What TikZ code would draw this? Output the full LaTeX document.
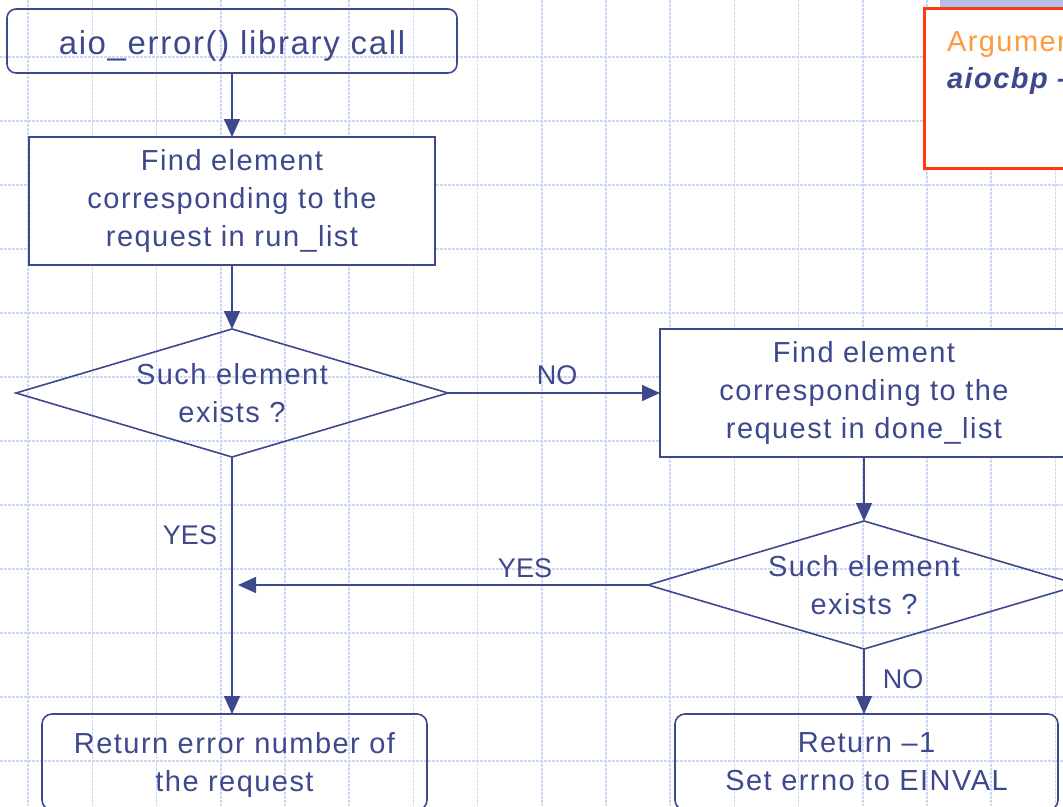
\documentclass[tikz,border=0pt]{standalone}
\usepackage{fontspec}
\setmainfont{Liberation Sans}
\newfontfamily\boxfont[LetterSpace=5]{Liberation Sans}
\usetikzlibrary{shapes.geometric,arrows.meta}

\definecolor{ink}{HTML}{3E488C}
\definecolor{gridblue}{HTML}{CCD8F6}
\definecolor{notered}{HTML}{FF3A10}
\definecolor{noteorange}{HTML}{FF9A3C}
\definecolor{notebar}{HTML}{B6BEE6}

\begin{document}
\begin{tikzpicture}[x=1pt,y=-1pt,
  every node/.style={text=ink, inner sep=0pt, outer sep=0pt},
  gridline/.style={draw=gridblue, line width=1.6pt, dash pattern=on 2.5pt off 1.5pt},
  flow/.style={draw=ink, line width=1.6pt, align=center,
    font=\boxfont\fontsize{29}{38}\selectfont},
  procbox/.style={flow, rectangle, fill=white},
  termbox/.style={flow, rectangle, rounded corners=10pt},
  decision/.style={flow, diamond, aspect=3.375,
    minimum width=432pt, minimum height=128pt},
  lbl/.style={font=\fontsize{27}{30}\selectfont},
  flowarrow/.style={draw=ink, line width=1.6pt,
    -{Triangle[length=18pt,width=16pt]}}
]
\useasboundingbox (0,0) rectangle (1063,806);
\clip (0,0) rectangle (1063,806);

% background grid
\foreach \i in {0,...,16}
  \draw[gridline] ({28.2+64.2*\i},0) -- ++(0,806);
\foreach \j in {0,...,11}
  \draw[gridline] (0,{57+64*\j}) -- ++(1063,0);

% note panel in the upper right corner
\fill[notebar] (940,0) rectangle (1063,7);
\draw[draw=notered, line width=3pt, fill=white] (924,8) rectangle (1075,168);
\node[anchor=base west, text=noteorange,
  font=\boxfont\fontsize{29}{38}\selectfont] (argl) at (947,51) {Argumen};
\node[anchor=base west,
  font=\boxfont\bfseries\itshape\fontsize{29}{38}\selectfont] (argv) at (947,88) {aiocbp –};

% flowchart nodes
\node[termbox, rounded corners=9pt, minimum width=450pt, minimum height=64pt,
  text height=26pt, text depth=0pt,
  font=\boxfont\fontsize{33}{38}\selectfont] (call) at (232,41) {aio\_error() library call};
\node[procbox, minimum width=406pt, minimum height=128pt] (runl) at (232,201)
  {Find element\\corresponding to the\\request in run\_list};
\node[decision] (q1) at (232,393) {Such element\\exists ?};
\node[procbox, minimum width=408pt, minimum height=128pt] (donel) at (864,393)
  {Find element\\corresponding to the\\request in done\_list};
\node[decision] (q2) at (864,585) {Such element\\exists ?};
\node[termbox, minimum width=385pt, minimum height=96pt, text depth=0pt] (reterr) at (234.5,762)
  {Return error number of\\the request};
\node[termbox, minimum width=383pt, minimum height=96pt, text depth=0pt] (retinv) at (866.5,762)
  {Return –1\\Set errno to EINVAL};

% connectors
\coordinate (join) at (238,585);
\draw[flowarrow] (call) -- (runl);
\draw[flowarrow] (runl) -- (q1);
\draw[flowarrow] (q1.east) -- (donel.west);
\draw[flowarrow] (donel) -- (q2);
\draw[flowarrow] (q2.west) -- (join);
\draw[flowarrow] (q1.south) -- (q1.south |- reterr.north);
\draw[flowarrow] (q2.south) -- (q2.south |- retinv.north);

% branch labels
\node[lbl] (no1) at (557,375) {NO};
\node[lbl] (yes1) at (190,535) {YES};
\node[lbl] (yes2) at (525,568) {YES};
\node[lbl] (no2) at (903,679) {NO};
\end{tikzpicture}
\end{document}
